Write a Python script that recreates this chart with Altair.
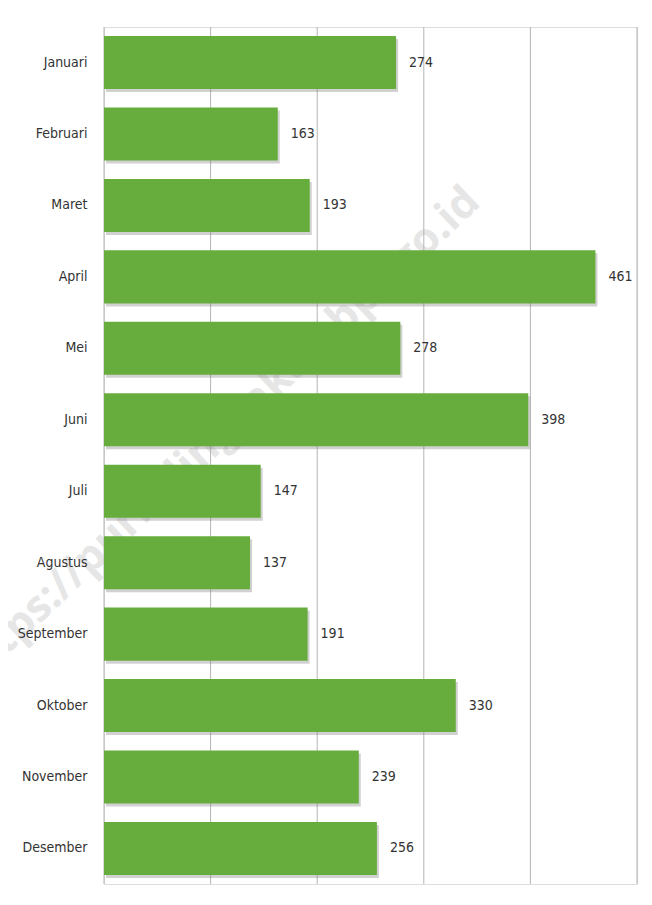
import altair as alt
import pandas as pd

months = ["Januari", "Februari", "Maret", "April", "Mei", "Juni", "Juli",
          "Agustus", "September", "Oktober", "November", "Desember"]
values = [274, 163, 193, 461, 278, 398, 147, 137, 191, 330, 239, 256]
grid_ticks = [0, 100, 200, 300, 400, 500]
watermark = ["https://purbalinggakab.bps.go.id"]

df = pd.DataFrame({"bulan": months, "nilai": values})
FONT = "'DejaVu Sans Condensed', 'Liberation Sans Narrow', 'Roboto Condensed', Roboto, sans-serif"

xscale = alt.Scale(domain=[0, 500], nice=False)
x_enc = alt.X("nilai:Q", scale=xscale, axis=None)
y_enc = alt.Y("bulan:N", sort=months,
              scale=alt.Scale(paddingInner=0.258, paddingOuter=0.126),
              axis=alt.Axis(title=None, ticks=False, domain=False, labelPadding=17, zindex=2,
                            labelFont=FONT, labelFontSize=14, labelColor="#333333"))

wm = alt.Chart(pd.DataFrame({"t": watermark})).mark_text(
    angle=316.5, font="'Open Sans', 'Liberation Sans', sans-serif", fontWeight="bold", fontSize=43,
    color="#e6e6e6", align="center", baseline="middle"
).encode(text="t:N", x=alt.value(114), y=alt.value(410))

grid = alt.Chart(pd.DataFrame({"g": grid_ticks})).mark_rule(
    color="#b4b4b4", strokeWidth=1).encode(x=alt.X("g:Q", scale=xscale, axis=None))

shadow = alt.Chart(df).mark_bar(color="#7a7a7a", opacity=0.35, xOffset=2, yOffset=3).encode(
    x=x_enc, y=y_enc)
bars = alt.Chart(df).mark_bar(color="#67ad3e").encode(x=x_enc, y=y_enc)
labels = alt.Chart(df).mark_text(align="left", baseline="middle", dx=13, font=FONT,
                                 fontSize=14, color="#333333").encode(
    x=x_enc, y=y_enc, text="nilai:Q")

chart = alt.layer(wm, grid, shadow, bars, labels).properties(
    width=533, height=857,
    autosize=alt.AutoSizeParams(type="none"),
    padding={"left": 96, "top": 19, "right": 5, "bottom": 2},
).configure_view(stroke=None).configure(background="white")

chart.save("out.html", embed_options={"renderer": "svg", "actions": False})
